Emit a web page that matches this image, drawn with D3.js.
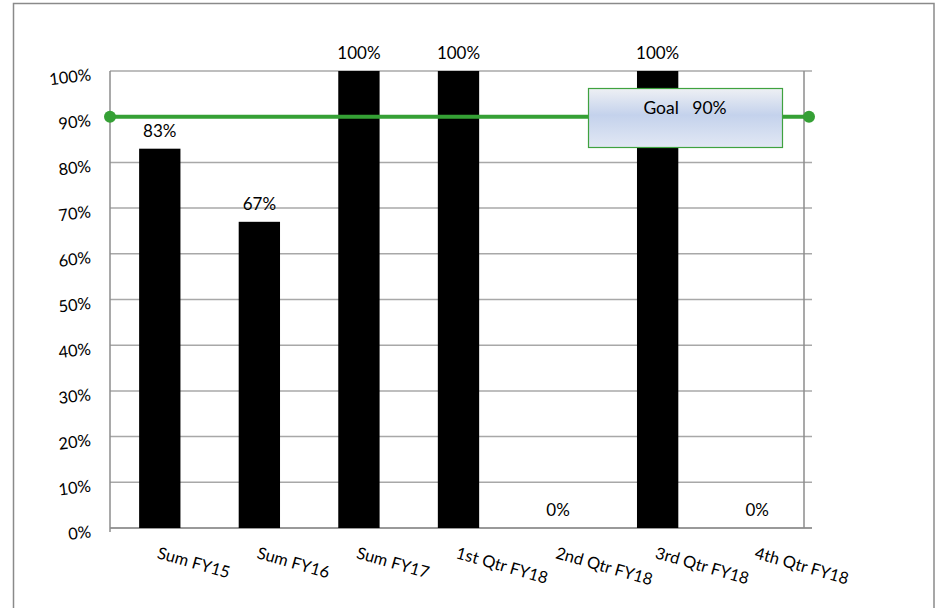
<!DOCTYPE html>
<html>
<head>
<meta charset="utf-8">
<script src="https://cdn.jsdelivr.net/npm/d3@7"></script>
<style>
  html, body { margin: 0; padding: 0; background: #fff; }
  svg { display: block; font-family: Lato, "Open Sans", sans-serif; }
</style>
</head>
<body>
<svg id="chart" width="936" height="608"></svg>
<script>
// Performance by period, shown against a fixed goal
const categories = ["Sum FY15", "Sum FY16", "Sum FY17", "1st Qtr FY18", "2nd Qtr FY18", "3rd Qtr FY18", "4th Qtr FY18"];
const values = [0.83, 0.67, 1.00, 1.00, 0.00, 1.00, 0.00];
const goalValues = [0.90, 0.90];
const goalLabel = "Goal   90%";
const yTicks = [0, 0.1, 0.2, 0.3, 0.4, 0.5, 0.6, 0.7, 0.8, 0.9, 1.0];

const svg = d3.select("#chart");
const margin = { left: 110, top: 71, right: 129, bottom: 80 };
const W = 936 - margin.left - margin.right;   // 697
const H = 608 - margin.top - margin.bottom;   // 457

// outer chart frame
svg.append("rect")
  .attr("x", 13.5).attr("y", 3.5).attr("width", 920.5).attr("height", 620)
  .attr("fill", "none").attr("stroke", "#8a8a8a").attr("stroke-width", 1.5);

const g = svg.append("g").attr("transform", `translate(${margin.left},${margin.top})`);

const x = d3.scaleBand().domain(categories).range([0, W]).paddingInner(0.585).paddingOuter(0.2925);
const y = d3.scaleLinear().domain([0, 1]).range([H, 0]);
const fmt = d3.format(".0%");

// horizontal gridlines, with small tick marks past the right edge
g.append("g").selectAll("line").data(yTicks).join("line")
  .attr("x1", 0).attr("x2", W + 5)
  .attr("y1", d => y(d)).attr("y2", d => y(d))
  .attr("stroke", "#a8a8a8").attr("stroke-width", 1.5);

// plot frame: left and right axes
g.append("line").attr("x1", 0).attr("x2", 0).attr("y1", 0).attr("y2", H + 4)
  .attr("stroke", "#8c8c8c").attr("stroke-width", 1.5);
g.append("line").attr("x1", W - 3).attr("x2", W - 3).attr("y1", 0).attr("y2", H)
  .attr("stroke", "#8c8c8c").attr("stroke-width", 1.5);
g.append("line").attr("x1", 0).attr("x2", W + 5).attr("y1", H).attr("y2", H)
  .attr("stroke", "#8c8c8c").attr("stroke-width", 1.5);

// y-axis labels, slightly tilted
g.append("g").selectAll("text").data(yTicks).join("text")
  .attr("transform", d => `translate(-19,${y(d) + 5}) rotate(-7)`)
  .attr("text-anchor", "end").attr("dominant-baseline", "middle")
  .attr("font-size", 16.5).attr("fill", "#000")
  .text(d => fmt(d));

// bars
g.append("g").selectAll("rect").data(values).join("rect")
  .attr("x", (d, i) => x(categories[i]))
  .attr("y", d => y(d))
  .attr("width", x.bandwidth())
  .attr("height", d => H - y(d))
  .attr("fill", "#000");

// value labels above bars
g.append("g").selectAll("text").data(values).join("text")
  .attr("x", (d, i) => x(categories[i]) + x.bandwidth() / 2)
  .attr("y", d => y(d) - 12)
  .attr("text-anchor", "middle").attr("font-size", 17).attr("fill", "#000")
  .text(d => fmt(d));

// category labels, rotated downward
g.append("g").selectAll("text").data(categories).join("text")
  .attr("transform", d => `translate(${x(d) + x.bandwidth() / 2},${H + 18}) rotate(16)`)
  .attr("text-anchor", "start").attr("dy", "0.75em")
  .attr("font-size", 16.5).attr("fill", "#000")
  .text(d => d);

// goal line
const gx = d3.scalePoint().domain([0, 1]).range([0, W + 2]);
const goalPts = goalValues.map((v, i) => [gx(i), y(v)]);
g.append("path")
  .attr("d", d3.line()(goalPts))
  .attr("fill", "none").attr("stroke", "#35a035").attr("stroke-width", 4);
g.append("g").selectAll("circle").data(goalPts).join("circle")
  .attr("cx", d => d[0]).attr("cy", d => d[1]).attr("r", 6)
  .attr("fill", "#35a035");

// goal callout box
const defs = svg.append("defs");
const grad = defs.append("linearGradient").attr("id", "goalFill")
  .attr("x1", 0).attr("x2", 0).attr("y1", 0).attr("y2", 1);
grad.append("stop").attr("offset", "0%").attr("stop-color", "#eef0f4");
grad.append("stop").attr("offset", "45%").attr("stop-color", "#c4d2ec");
grad.append("stop").attr("offset", "100%").attr("stop-color", "#e2e8f4");

const bx = 588 - margin.left, by = 88 - margin.top, bw = 194, bh = 59;
g.append("rect")
  .attr("x", bx + 0.5).attr("y", by + 0.5).attr("width", bw).attr("height", bh)
  .attr("fill", "url(#goalFill)").attr("stroke", "#3fa23f").attr("stroke-width", 1.2);
g.append("text")
  .attr("x", bx + bw / 2).attr("y", by + 26)
  .attr("text-anchor", "middle").attr("font-size", 17.5).attr("fill", "#000")
  .attr("xml:space", "preserve").style("white-space", "pre")
  .text(goalLabel);
</script>
</body>
</html>
